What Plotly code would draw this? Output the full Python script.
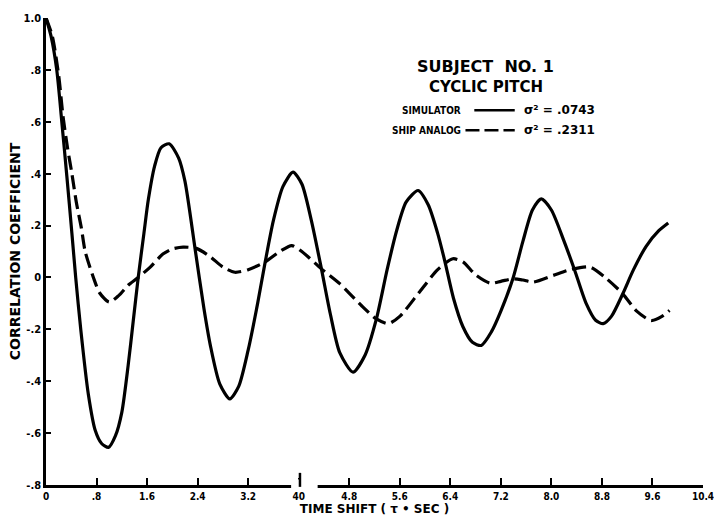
import plotly.graph_objects as go

# Simulator (solid) correlation coefficient vs time shift
sim_x = [0, 0.08, 0.17, 0.25, 0.33, 0.41, 0.47, 0.55, 0.67, 0.78, 0.88, 0.99, 1.1, 1.2, 1.3, 1.38,
         1.46, 1.55, 1.62, 1.72, 1.82, 1.95, 2.1, 2.2, 2.36, 2.5, 2.6, 2.75, 2.91, 3.05, 3.2, 3.35,
         3.47, 3.6, 3.75, 3.91, 4.05, 4.2, 4.36, 4.5, 4.65, 4.86, 5.05, 5.23, 5.4, 5.55, 5.7, 5.89,
         6.05, 6.2, 6.31, 6.45, 6.6, 6.75, 6.89, 7.05, 7.2, 7.39, 7.55, 7.7, 7.84, 8.0, 8.2, 8.37,
         8.55, 8.7, 8.82, 8.95, 9.13, 9.3, 9.5, 9.7, 9.85]
sim_y = [1.0, 0.93, 0.80, 0.60, 0.39, 0.17, 0.0, -0.20, -0.45, -0.59, -0.64, -0.655, -0.61, -0.52,
         -0.34, -0.17, 0.0, 0.17, 0.30, 0.43, 0.50, 0.515, 0.46, 0.37, 0.11, -0.12, -0.26, -0.41,
         -0.468, -0.42, -0.28, -0.10, 0.06, 0.22, 0.35, 0.406, 0.36, 0.22, 0.033, -0.14, -0.29,
         -0.365, -0.30, -0.16, 0.03, 0.18, 0.29, 0.335, 0.28, 0.17, 0.066, -0.08, -0.19, -0.25,
         -0.262, -0.21, -0.13, -0.005, 0.14, 0.26, 0.303, 0.26, 0.14, 0.027, -0.10, -0.165, -0.178,
         -0.15, -0.063, 0.03, 0.12, 0.18, 0.21]

# Ship analog (dashed)
ship_x = [0, 0.1, 0.2, 0.27, 0.34, 0.41, 0.48, 0.56, 0.62, 0.75, 0.85, 1.0, 1.15, 1.3, 1.46, 1.65,
          1.85, 2.0, 2.17, 2.38, 2.6, 2.8, 2.99, 3.2, 3.47, 3.7, 3.89, 4.05, 4.36, 4.65, 4.81, 5.0,
          5.23, 5.42, 5.6, 5.9, 6.2, 6.44, 6.6, 6.8, 7.03, 7.2, 7.39, 7.55, 7.71, 8.03, 8.3, 8.61,
          8.85, 9.13, 9.35, 9.58, 9.75, 9.87]
ship_y = [1.0, 0.93, 0.78, 0.62, 0.50, 0.40, 0.29, 0.19, 0.10, 0.0, -0.06, -0.095, -0.07, -0.03,
          0.0, 0.04, 0.09, 0.11, 0.117, 0.112, 0.08, 0.04, 0.02, 0.03, 0.06, 0.10, 0.123, 0.10,
          0.033, -0.024, -0.063, -0.11, -0.16, -0.178, -0.15, -0.06, 0.03, 0.072, 0.06, 0.01,
          -0.022, -0.015, -0.005, -0.01, -0.018, 0.008, 0.03, 0.04, 0.0, -0.063, -0.13, -0.166,
          -0.15, -0.127]

x_tickvals = [0, 0.8, 1.6, 2.4, 3.2, 4.0, 4.8, 5.6, 6.4, 7.2, 8.0, 8.8, 9.6, 10.4]
x_ticktext = ["0", ".8", "1.6", "2.4", "3.2", "40", "4.8", "5.6", "6.4", "7.2", "8.0", "8.8", "9.6", "10.4"]
y_tickvals = [1.0, 0.8, 0.6, 0.4, 0.2, 0, -0.2, -0.4, -0.6, -0.8]
y_ticktext = ["1.0", ".8", ".6", ".4", ".2", "0", "-.2", "-.4", "-.6", "-.8"]

FONT = "DejaVu Sans, Arial"
FONTC = "DejaVu Sans Condensed, DejaVu Sans, Arial"

fig = go.Figure()
fig.add_trace(go.Scatter(x=sim_x, y=sim_y, mode="lines", name="SIMULATOR",
                         line=dict(color="black", width=3.2, shape="spline", smoothing=0.7)))
fig.add_trace(go.Scatter(x=ship_x, y=ship_y, mode="lines", name="SHIP ANALOG",
                         line=dict(color="black", width=3.2, shape="spline", smoothing=0.7,
                                   dash="14px,6px")))

ann_font = dict(family=FONTC, size=10, color="black", weight="bold")
sig_font = dict(family=FONT, size=12, color="black", weight="bold")
annotations = [
    dict(x=6.95, y=0.815, text="SUBJECT  NO. 1", showarrow=False,
         font=dict(family=FONT, size=16, color="black", weight="bold")),
    dict(x=6.97, y=0.733, text="CYCLIC PITCH", showarrow=False,
         font=dict(family=FONT, size=15, color="black", weight="bold")),
    dict(x=6.6, y=0.644, text="SIMULATOR", showarrow=False, xanchor="right", font=ann_font),
    dict(x=6.6, y=0.567, text="SHIP ANALOG", showarrow=False, xanchor="right", font=ann_font),
    dict(x=7.53, y=0.644, text="σ² = .0743", showarrow=False, xanchor="left", font=sig_font),
    dict(x=7.53, y=0.567, text="σ² = .2311", showarrow=False, xanchor="left", font=sig_font),
]
shapes = [
    dict(type="line", x0=6.78, x1=7.42, y0=0.644, y1=0.644, line=dict(color="black", width=2.5)),
    dict(type="line", x0=6.64, x1=7.42, y0=0.567, y1=0.567,
         line=dict(color="black", width=2.5, dash="14px,5px")),
    # break in the time axis near 4.0
    dict(type="rect", xref="x", yref="paper", x0=3.88, x1=4.3, y0=-0.012, y1=0.012,
         fillcolor="white", line=dict(width=0), layer="above"),
    dict(type="line", xref="x", yref="paper", x0=4.02, x1=4.02, y0=-0.004, y1=0.026,
         line=dict(color="black", width=2.5), layer="above"),
]

fig.update_layout(
    width=714, height=517,
    margin=dict(l=46, r=11, t=18, b=32),
    paper_bgcolor="white", plot_bgcolor="white",
    showlegend=False,
    font=dict(family=FONT, color="black"),
    annotations=annotations,
    shapes=shapes,
    xaxis=dict(range=[0, 10.4], tickvals=x_tickvals, ticktext=x_ticktext, automargin=False,
               showgrid=False, zeroline=False, showline=True, linecolor="black", linewidth=2.5,
               ticks="inside", ticklen=7, tickwidth=2, tickcolor="black",
               ticklabeloverflow="allow",
               tickfont=dict(family=FONTC, size=10, color="black", weight="bold"),
               title=dict(text="TIME SHIFT ( τ • SEC )", standoff=3,
                          font=dict(family=FONT, size=12, color="black", weight="bold"))),
    yaxis=dict(range=[-0.8, 1.0], tickvals=y_tickvals, ticktext=y_ticktext, automargin=False,
               showgrid=False, zeroline=False, showline=True, linecolor="black", linewidth=2.5,
               ticks="inside", ticklen=5, tickwidth=2, tickcolor="black",
               ticklabeloverflow="allow",
               tickfont=dict(family=FONTC, size=11, color="black", weight="bold"),
               title=dict(text="CORRELATION COEFFICIENT", standoff=0,
                          font=dict(family=FONT, size=14, color="black", weight="bold"))),
)

fig.write_html("out.html", config={"displayModeBar": False},
               post_script="document.body.style.margin='0';document.body.style.overflow='hidden';")
